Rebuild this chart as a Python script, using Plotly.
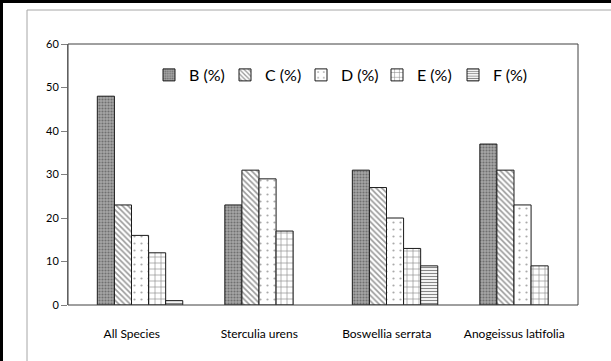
import plotly.graph_objects as go

# Species groups and the share of each class (%)
species = ["All Species", "Sterculia urens", "Boswellia serrata", "Anogeissus latifolia"]
b_pct = [48, 23, 31, 37]
c_pct = [23, 31, 27, 31]
d_pct = [16, 29, 20, 23]
e_pct = [12, 17, 13, 9]
f_pct = [1, None, 9, None]
y_ticks = [0, 10, 20, 30, 40, 50, 60]

series = [
    ("B (%)", b_pct, dict(shape=".", fgcolor="#3a3a3a", bgcolor="#a6a6a6", size=3, solidity=0.4)),
    ("C (%)", c_pct, dict(shape="\\", fgcolor="#333333", bgcolor="#ffffff", size=4, solidity=0.4)),
    ("D (%)", d_pct, dict(shape=".", fgcolor="#555555", bgcolor="#ffffff", size=7, solidity=0.08)),
    ("E (%)", e_pct, dict(shape="+", fgcolor="#111111", bgcolor="#ffffff", size=6, solidity=0.2)),
    ("F (%)", f_pct, dict(shape="-", fgcolor="#111111", bgcolor="#ffffff", size=3, solidity=0.4)),
]

BAR_W = 0.134
GROUP_START = -0.27

fig = go.Figure()
for k, (name, vals, pat) in enumerate(series):
    fig.add_trace(go.Bar(
        x=species, y=vals, name=name,
        width=BAR_W, offset=GROUP_START + k * BAR_W,
        marker=dict(color=pat["bgcolor"], pattern=pat,
                    line=dict(color="#1a1a1a", width=1)),
    ))

FONT = "Lato, Carlito, Calibri, sans-serif"
L, R, T, B = 68, 33, 44, 56
W, H = 611, 361
pw, ph = W - L - R, H - T - B


def px_x(p):
    return (p - L) / pw


def px_y(p):
    return (H - B - p) / ph


shapes = [
    # outer frame of the chart object
    dict(type="line", xref="paper", yref="paper", x0=px_x(27), x1=px_x(W + 5),
         y0=px_y(10), y1=px_y(10), line=dict(color="#a6a6a6", width=1)),
    dict(type="line", xref="paper", yref="paper", x0=px_x(27), x1=px_x(27),
         y0=px_y(10), y1=px_y(H + 5), line=dict(color="#a6a6a6", width=1)),
    # page border
    dict(type="line", xref="paper", yref="paper", x0=px_x(1.5), x1=px_x(W + 5),
         y0=px_y(1.5), y1=px_y(1.5), line=dict(color="#000000", width=3)),
    dict(type="line", xref="paper", yref="paper", x0=px_x(1.5), x1=px_x(1.5),
         y0=px_y(0), y1=px_y(H + 5), line=dict(color="#000000", width=3)),
    # plot area border
    dict(type="rect", xref="paper", yref="paper", x0=0, x1=1, y0=0, y1=1,
         line=dict(color="#404040", width=1), layer="above"),
]

fig.update_layout(
    width=W, height=H,
    margin=dict(l=L, r=R, t=T, b=B, pad=0),
    paper_bgcolor="white", plot_bgcolor="white",
    barmode="overlay",
    font=dict(family=FONT, size=11, color="#000000"),
    showlegend=True,
    legend=dict(orientation="h", x=px_x(149), y=px_y(75), xanchor="left", yanchor="middle",
                font=dict(family=FONT, size=16, color="#000000"),
                entrywidth=31, entrywidthmode="pixels",
                bgcolor="rgba(0,0,0,0)", traceorder="normal"),
    xaxis=dict(range=[-0.5, 3.5], showgrid=False, zeroline=False, ticks="",
               showline=False, ticklabelstandoff=20,
               tickfont=dict(family=FONT, size=12)),
    yaxis=dict(range=[0, 60], tickvals=y_ticks, showgrid=False, zeroline=False,
               ticks="outside", ticklen=6, tickcolor="#808080",
               showline=True, linecolor="#808080", linewidth=1,
               tickfont=dict(family=FONT, size=11)),
    shapes=shapes,
)

fig.write_html("out.html")
